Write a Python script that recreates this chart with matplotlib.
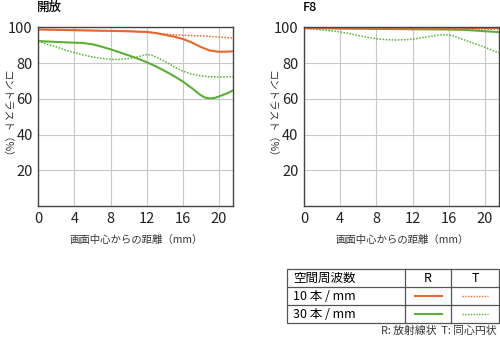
import matplotlib
matplotlib.use('Agg')
import matplotlib.pyplot as plt
from matplotlib.lines import Line2D
from matplotlib.patches import Rectangle

plt.rcParams['font.family'] = ['Noto Sans CJK JP', 'DejaVu Sans']

ORANGE = '#e8672c'
GREEN = '#5bb034'

# 開放
open_x_10r = [0, 2, 4, 6, 8, 10, 12, 13, 14, 15, 16, 17, 18, 19, 20, 21, 21.6]
open_y_10r = [98.8, 98.6, 98.4, 98.2, 98.0, 97.8, 97.4, 96.8, 95.8, 94.8, 93.5, 91.5, 89.0, 87.0, 86.3, 86.4, 86.6]
open_x_10t = [0, 4, 8, 12, 13, 14, 15, 16, 18, 20, 21.6]
open_y_10t = [98.6, 98.3, 97.9, 97.4, 96.8, 96.2, 95.8, 95.5, 95.2, 94.6, 93.9]
open_x_30r = [0, 2, 4, 5, 6, 7, 8, 9, 10, 11, 12, 13, 14, 15, 16, 17, 18, 18.5, 19, 19.5, 20, 21, 21.6]
open_y_30r = [92.3, 91.8, 91.4, 91.2, 90.5, 89.2, 87.7, 86.0, 84.3, 82.5, 80.5, 78.2, 75.6, 72.8, 69.7, 66.0, 62.0,
              60.6, 60.2, 60.4, 61.3, 63.2, 64.8]
open_x_30t = [0, 1, 2, 3, 4, 5, 6, 7, 8, 9, 10, 11, 12, 12.5, 13, 14, 15, 16, 17, 18, 19, 20, 21, 21.6]
open_y_30t = [92.3, 90.5, 89.0, 87.3, 85.8, 84.5, 83.4, 82.6, 82.1, 82.0, 82.5, 83.5, 84.7, 84.5, 83.5, 81.0, 78.0,
              75.5, 73.8, 72.8, 72.3, 72.2, 72.3, 72.4]

# F8
f8_x_10r = [0, 4, 8, 12, 16, 20, 21.6]
f8_y_10r = [99.7, 99.7, 99.7, 99.7, 99.7, 99.6, 99.6]
f8_x_10t = [0, 4, 8, 12, 16, 20, 21.6]
f8_y_10t = [99.5, 99.3, 99.0, 98.7, 98.7, 98.8, 99.0]
f8_x_30r = [0, 4, 8, 12, 16, 18, 20, 21.6]
f8_y_30r = [99.5, 99.3, 99.1, 99.0, 98.8, 98.5, 97.8, 97.3]
f8_x_30t = [0, 1, 2, 3, 4, 5, 6, 7, 8, 9, 10, 11, 12, 13, 14, 15, 15.7, 16.5, 17, 18, 19, 20, 21, 21.6]
f8_y_30t = [99.4, 99.0, 98.5, 98.0, 97.4, 96.5, 95.4, 94.4, 93.6, 93.1, 92.9, 93.0, 93.3, 94.1, 95.0, 95.7, 95.9,
            95.2, 94.3, 92.4, 90.6, 88.8, 86.8, 85.7]

x_ticks = [0, 4, 8, 12, 16, 20]
y_ticks = [20, 40, 60, 80, 100]
titles = ['開放', 'F8']
xlabel = '画面中心からの距離（mm）'
ylabel = 'コントラスト（%）'

legend_rows = ['10 本 / mm', '30 本 / mm']
legend_colors = [ORANGE, GREEN]

dotted = (0, (1, 1))


def draw_panel(ax, title, series):
    for xs, ys, col, ls in series:
        ax.plot(xs, ys, color=col, lw=1.5 if ls == '-' else 1.1, linestyle=ls, solid_capstyle='butt')
    ax.set_xlim(0, 21.6)
    ax.set_ylim(0, 100)
    ax.set_xticks(x_ticks)
    ax.set_yticks(y_ticks)
    ax.grid(True, color='#c8c8c8', lw=0.8)
    ax.set_axisbelow(True)
    ax.tick_params(length=0, labelsize=10.5, pad=4, colors='#222222')
    for s in ax.spines.values():
        s.set_color('#444444')
        s.set_linewidth(1.0)
    ax.set_xlabel(xlabel, fontsize=7.5, labelpad=7, color='#333333')
    ax.set_ylabel(ylabel, fontsize=7.5, rotation=270, va='center', ha='center', color='#333333')
    ax.yaxis.set_label_coords(-0.165, 0.5)
    ax.set_title(title, fontsize=9, loc='left', x=-0.005, pad=12, fontweight='medium')


fig = plt.figure(figsize=(5, 3.4), dpi=100)
ax1 = fig.add_axes([0.0766, 0.394, 0.39, 0.5257])
ax2 = fig.add_axes([0.608, 0.394, 0.3906, 0.5257])

draw_panel(ax1, titles[0], [
    (open_x_10r, open_y_10r, ORANGE, '-'),
    (open_x_10t, open_y_10t, ORANGE, dotted),
    (open_x_30r, open_y_30r, GREEN, '-'),
    (open_x_30t, open_y_30t, GREEN, dotted),
])
draw_panel(ax2, titles[1], [
    (f8_x_10t, f8_y_10t, ORANGE, dotted),
    (f8_x_30t, f8_y_30t, GREEN, dotted),
    (f8_x_30r, f8_y_30r, GREEN, '-'),
    (f8_x_10r, f8_y_10r, ORANGE, '-'),
])

# legend table, in pixel space of the figure
lg = fig.add_axes([0, 0, 1, 1], zorder=-1)
lg.set_xlim(0, 500)
lg.set_ylim(340, 0)
lg.axis('off')
left, right, top, bottom = 287, 499, 269, 323
c1, c2 = 405, 451
r1, r2 = 287, 305
lg.add_patch(Rectangle((left, top), right - left, bottom - top, fill=False, ec='#555555', lw=0.9))
for yy in (r1, r2):
    lg.add_line(Line2D([left, right], [yy, yy], color='#555555', lw=0.9))
for xx in (c1, c2):
    lg.add_line(Line2D([xx, xx], [top, bottom], color='#555555', lw=0.9))
lg.text(left + 6, (top + r1) / 2, '空間周波数', fontsize=9, va='center', ha='left')
lg.text((c1 + c2) / 2, (top + r1) / 2, 'R', fontsize=9, va='center', ha='center')
lg.text((c2 + right) / 2, (top + r1) / 2, 'T', fontsize=9, va='center', ha='center')
for i, (lab, col) in enumerate(zip(legend_rows, legend_colors)):
    yc = [r1, r2][i] + 9
    lg.text(left + 6, yc, lab, fontsize=9, va='center', ha='left')
    lg.add_line(Line2D([415, 442], [yc, yc], color=col, lw=1.5))
    lg.add_line(Line2D([462, 488], [yc, yc], color=col, lw=1.0, linestyle=dotted))
lg.text(497, 331, 'R: 放射線状  T: 同心円状', fontsize=7.8, va='center', ha='right', color='#333333')

fig.savefig('out.png', dpi=100)
